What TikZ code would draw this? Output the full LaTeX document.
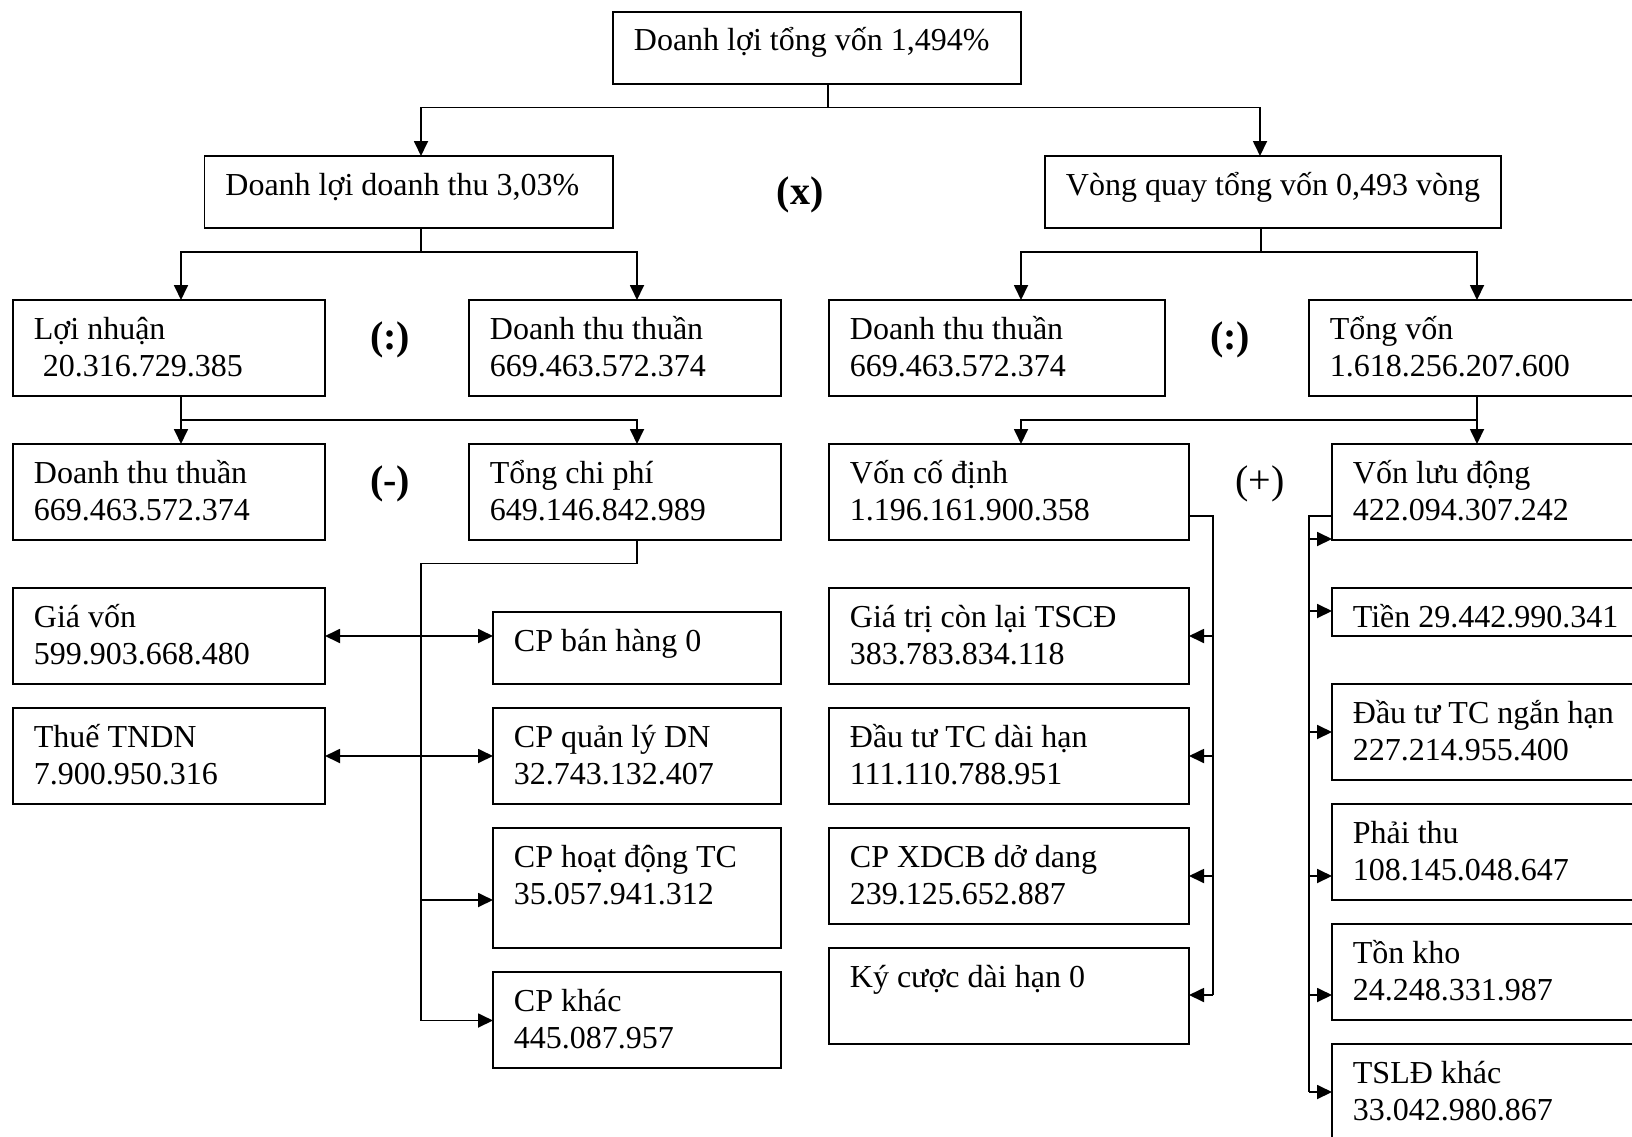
\documentclass[tikz,border=0pt]{standalone}
\usepackage{fontspec}
\setmainfont{Liberation Serif}
\usetikzlibrary{arrows.meta}
\tikzset{
  box/.style={draw, rectangle, inner sep=0pt, outer sep=0pt, anchor=north west},
  txt/.style={anchor=base west, inner sep=0pt, font=\fontsize{32}{37.5}\selectfont},
  arr/.style={-{Triangle[length=15pt,width=14pt]}},
  darr/.style={{Triangle[length=15pt,width=14pt]}-{Triangle[length=15pt,width=14pt]}},
  opb/.style={inner sep=0pt, font=\fontsize{40}{44}\selectfont\bfseries},
  opr/.style={inner sep=0pt, font=\fontsize{40}{44}\selectfont},
}
\newcommand\bx[6]{%
  \node[box, minimum width={#4-#2}, minimum height={#5-#3}] (#1) at (#2,#3) {};
  \node[txt] (#1-t) at ({#2+20},{#3+39}) {\begin{tabular}[t]{@{}l@{}}#6\end{tabular}};}
\begin{document}
\begin{tikzpicture}[x=1pt, y=-1pt, line width=1.8pt]
\useasboundingbox (0,0) rectangle (1632,1137);
\clip (0,0) rectangle (1632,1137);

% level 0-1
\bx{T}{613}{12}{1021}{84}{Doanh lợi tổng vốn 1,494\%}
\bx{A}{204.5}{156}{613}{228}{Doanh lợi doanh thu 3,03\%}
\bx{B}{1045}{156}{1501}{228}{Vòng quay tổng vốn 0,493 vòng}
\node[opb] (ox) at (800,195) {(x)};

% level 2
\bx{LN}{13}{300}{325}{396}{Lợi nhuận\\\hspace{9pt}20.316.729.385}
\bx{DT1}{469}{300}{781}{396}{Doanh thu thuần\\669.463.572.374}
\node[opb] (od1) at (390,340) {(:)};
\bx{DT2}{829}{300}{1165}{396}{Doanh thu thuần\\669.463.572.374}
\bx{TV}{1309}{300}{1660}{396}{Tổng vốn\\1.618.256.207.600}
\node[opb] (od2) at (1230,340) {(:)};

% level 3
\bx{DT3}{13}{444}{325}{540}{Doanh thu thuần\\669.463.572.374}
\bx{TCP}{469}{444}{781}{540}{Tổng chi phí\\649.146.842.989}
\node[opb] (om) at (390,484) {(-)};
\bx{VCD}{829}{444}{1189}{540}{Vốn cố định\\1.196.161.900.358}
\bx{VLD}{1332}{444}{1660}{540}{Vốn lưu động\\422.094.307.242}
\node[opr] (op) at (1260,484) {(+)};

% left details
\bx{GV}{13}{588}{325}{684}{Giá vốn\\599.903.668.480}
\bx{TT}{13}{708}{325}{804}{Thuế TNDN\\7.900.950.316}
\bx{CPBH}{493}{612}{781}{684}{CP bán hàng 0}
\bx{CPQL}{493}{708}{781}{804}{CP quản lý DN\\32.743.132.407}
\bx{CPHD}{493}{828}{781}{948}{CP hoạt động TC\\35.057.941.312}
\bx{CPK}{493}{972}{781}{1068}{CP khác\\445.087.957}

% fixed assets
\bx{GTCL}{829}{588}{1189}{684}{Giá trị còn lại TSCĐ\\383.783.834.118}
\bx{DTDH}{829}{708}{1189}{804}{Đầu tư TC dài hạn\\111.110.788.951}
\bx{XDCB}{829}{828}{1189}{924}{CP XDCB dở dang\\239.125.652.887}
\bx{KC}{829}{948}{1189}{1044}{Ký cược dài hạn 0}

% current assets
\bx{TIEN}{1332}{588}{1660}{636}{Tiền 29.442.990.341}
\bx{DTNH}{1332}{684}{1660}{780}{Đầu tư TC ngắn hạn\\227.214.955.400}
\bx{PT}{1332}{804}{1660}{900}{Phải thu\\108.145.048.647}
\bx{TK}{1332}{924}{1660}{1020}{Tồn kho\\24.248.331.987}
\bx{TSLD}{1332}{1044}{1660}{1160}{TSLĐ khác\\33.042.980.867}

% helper coordinates
\coordinate (xA) at (421,0);
\coordinate (xB) at (1260,0);
\coordinate (x181) at (181,0);
\coordinate (x637) at (637,0);
\coordinate (x1021) at (1021,0);
\coordinate (x1477) at (1477,0);

% T -> A, B
\coordinate (jT) at (828,107.5);
\draw (jT |- T.south) -- (jT);
\draw[arr] (jT) -| (xA |- A.north);
\draw[arr] (jT) -| (xB |- B.north);

% A -> LN, DT1
\coordinate (jA) at (421,252);
\draw (jA |- A.south) -- (jA);
\draw[arr] (jA) -| (x181 |- LN.north);
\draw[arr] (jA) -| (x637 |- DT1.north);

% B -> DT2, TV
\coordinate (jB) at (1261,252);
\draw (jB |- B.south) -- (jB);
\draw[arr] (jB) -| (x1021 |- DT2.north);
\draw[arr] (jB) -| (x1477 |- TV.north);

% LN -> DT3, TCP
\coordinate (jL) at (181,420);
\draw[arr] (x181 |- LN.south) -- (x181 |- DT3.north);
\draw[arr] (jL) -| (x637 |- TCP.north);

% TV -> VCD, VLD
\coordinate (jV) at (1477,420);
\draw[arr] (x1477 |- TV.south) -- (x1477 |- VLD.north);
\draw[arr] (jV) -| (x1021 |- VCD.north);

% TCP -> cost items
\coordinate (jC) at (421,563.5);
\coordinate (jCb) at (421,1020.5);
\coordinate (yH) at (0,900);
\draw (x637 |- TCP.south) |- (jC) -- (jCb);
\draw[arr] (jC |- yH) -- (CPHD.west |- yH);
\draw[arr] (jCb) -- (jCb -| CPK.west);
\draw[darr] (GV.east) -- (GV.east -| CPBH.west);
\draw[darr] (TT.east) -- (TT.east -| CPQL.west);

% VCD -> fixed assets
\coordinate (jF) at (1213,516);
\coordinate (jFb) at (1213,995);
\draw (jF -| VCD.east) -- (jF) -- (jFb);
\draw[arr] (jF |- GTCL.east) -- (GTCL.east);
\draw[arr] (jF |- DTDH.east) -- (DTDH.east);
\draw[arr] (jF |- XDCB.east) -- (XDCB.east);
\draw[arr] (jFb) -- (jFb -| KC.east);

% VLD -> current assets
\coordinate (jR) at (1309,516);
\coordinate (jRb) at (1309,1092);
\draw (jR -| VLD.west) -- (jR) -- (jRb);
\foreach \yy/\nn in {539/VLD, 611/TIEN, 732/DTNH, 876/PT, 995/TK, 1092/TSLD}{
  \coordinate (ry) at (1309,\yy);
  \draw[arr] (ry) -- (ry -| \nn.west);
}
\end{tikzpicture}
\end{document}
